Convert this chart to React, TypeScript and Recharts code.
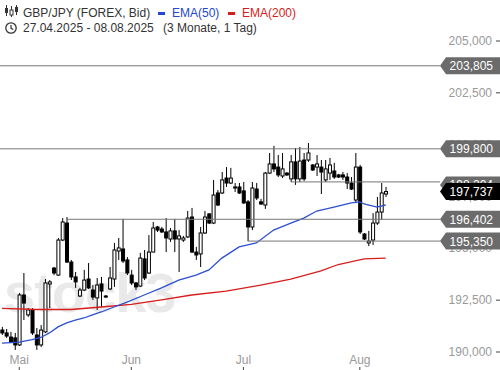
import React from "react"
import {
  ComposedChart, Bar, Line, XAxis, YAxis, ReferenceLine,
} from "recharts"

// GBP/JPY daily candles 27.04.2025 - 08.08.2025 (Sun-Fri sessions)
const OPEN = [
  191.06, 190.92, 190.72, 190.68, 190.34, 192.75, 191.79, 192.03, 190.82, 190.34,
  190.97, 193.28, 194.05, 193.71, 195.40, 196.22, 194.34, 193.62, 192.70, 192.99,
  193.52, 192.99, 192.61, 193.28, 192.70, 193.04, 193.52, 194.87, 194.97, 194.44,
  193.71, 193.33, 193.18, 194.49, 193.81, 194.82, 196.03, 195.93, 195.79, 195.45,
  195.84, 195.45, 195.40, 195.55, 196.51, 194.82, 194.73, 195.74, 196.66, 196.22,
  197.67, 197.67, 198.39, 198.15, 197.91, 197.96, 197.77, 197.24, 196.03, 197.86,
  197.24, 197.09, 198.63, 199.07, 198.92, 198.49, 198.63, 198.35, 199.17, 198.35,
  199.26, 199.26, 199.02, 198.92, 198.92, 198.30, 198.63, 198.73, 198.54, 198.54,
  198.44, 198.15, 197.33, 198.92, 195.69, 195.26, 195.40, 196.22, 196.75, 197.62,
]
const HIGH = [
  191.21, 191.11, 190.97, 190.92, 192.85, 193.81, 192.12, 192.12, 191.16, 191.30,
  193.52, 193.47, 194.10, 195.50, 196.46, 196.51, 194.44, 193.86, 193.09, 193.96,
  194.29, 193.23, 193.57, 193.62, 192.75, 194.10, 195.26, 195.50, 196.42, 194.58,
  193.96, 193.38, 194.78, 194.92, 195.64, 196.27, 196.08, 196.03, 196.46, 195.98,
  196.42, 195.88, 195.60, 196.80, 196.95, 195.07, 196.03, 196.80, 196.70, 198.30,
  197.81, 198.68, 198.92, 198.88, 198.15, 198.15, 198.20, 197.33, 198.20, 198.15,
  197.38, 198.68, 199.60, 199.94, 199.50, 199.60, 198.68, 199.50, 199.84, 199.89,
  199.60, 200.08, 199.07, 199.50, 199.26, 199.26, 199.36, 199.12, 198.59, 198.68,
  198.63, 198.44, 199.60, 199.02, 195.74, 195.84, 196.70, 197.48, 198.15, 197.96,
]
const LOW = [
  190.82, 190.68, 190.43, 190.10, 190.29, 191.54, 191.69, 190.82, 190.10, 190.24,
  190.92, 192.12, 193.71, 193.67, 195.35, 194.29, 193.47, 193.09, 192.65, 192.94,
  193.04, 192.51, 192.03, 192.17, 192.61, 192.99, 193.14, 194.44, 194.29, 193.71,
  193.23, 192.99, 193.14, 193.47, 193.76, 194.82, 195.79, 195.74, 194.82, 195.31,
  194.82, 193.86, 195.31, 195.50, 194.78, 194.44, 194.10, 195.70, 196.17, 196.17,
  197.04, 197.62, 197.96, 198.10, 197.72, 197.62, 197.14, 195.35, 195.88, 197.33,
  197.09, 196.90, 198.59, 198.68, 198.44, 198.39, 198.49, 198.20, 198.06, 198.20,
  198.25, 199.17, 198.73, 198.49, 197.62, 198.20, 198.30, 198.35, 198.39, 198.30,
  197.86, 197.81, 197.19, 195.69, 195.40, 195.11, 195.16, 196.13, 196.37, 197.48,
]
const CLOSE = [
  190.92, 190.77, 190.48, 190.34, 192.75, 192.36, 192.03, 190.92, 190.34, 191.06,
  193.33, 193.38, 193.81, 195.40, 196.27, 194.34, 193.62, 193.38, 192.99, 193.47,
  193.09, 192.65, 193.23, 192.94, 192.65, 193.57, 194.92, 195.02, 194.39, 193.81,
  193.33, 193.14, 194.53, 193.57, 194.82, 195.98, 195.88, 195.79, 195.50, 195.84,
  195.45, 195.60, 195.50, 196.46, 194.82, 194.68, 195.74, 196.51, 196.22, 197.57,
  197.09, 198.30, 198.15, 198.39, 197.96, 197.67, 197.19, 196.03, 197.91, 197.43,
  197.14, 198.63, 199.07, 198.83, 198.54, 198.83, 198.54, 199.17, 198.35, 199.21,
  198.35, 199.60, 198.78, 199.07, 198.68, 198.83, 199.02, 198.44, 198.44, 198.44,
  198.15, 197.86, 198.92, 195.79, 195.45, 195.35, 196.22, 196.75, 197.67, 197.737,
]

// moving averages at a few candle indices
const EMA50_IDX = [0, 4, 7, 9, 11, 13, 15, 17, 19, 21, 23, 26, 29, 33, 37, 41, 45, 48, 51, 55, 59, 63, 67, 70, 73, 77, 81, 83, 84, 87, 89]
const EMA50_VAL = [
  190.43, 190.48, 190.60, 190.70, 190.92, 191.21, 191.40, 191.54, 191.64, 191.79,
  191.93, 192.17, 192.41, 192.75, 193.09, 193.47, 193.71, 193.96, 194.53, 195.07,
  195.26, 195.88, 196.22, 196.46, 196.80, 196.99, 197.19, 197.24, 197.14, 196.99, 197.09,
]
const EMA200_IDX = [0, 8, 16, 23, 30, 37, 44, 52, 60, 67, 74, 78, 84, 89]
const EMA200_VAL = [192.10, 192.05, 192.05, 192.17, 192.30, 192.51, 192.75, 192.94, 193.23, 193.52, 193.91, 194.22, 194.49, 194.53]

// horizontal levels: value, first candle index (null = from the left edge)
const LEVEL_VAL = [203.805, 199.8, 198.204, 196.402, 195.35]
const LEVEL_FROM: (number | null)[] = [null, null, 67, 15, 57]
const LAST_PRICE = 197.737

const PRICE_TICKS = [190, 192.5, 195, 197.5, 200, 202.5, 205]
const MONTH_TICKS = [4, 30, 56, 83]
const MONTH_LABELS = ["Mai", "Jun", "Jul", "Aug"]

const XMIN = -0.464
const XMAX = 101.6
const YMIN = 190
const YMAX = 206.978

const FONT = "'Liberation Sans', Arial, sans-serif"

const candles = OPEN.map((o, i) => ({ i, o, h: HIGH[i], l: LOW[i], c: CLOSE[i] }))
const ema50 = EMA50_IDX.map((i, k) => ({ i, v: EMA50_VAL[k] }))
const ema200 = EMA200_IDX.map((i, k) => ({ i, v: EMA200_VAL[k] }))

const fmt = (v: number) => v.toFixed(3).replace(".", ",")

function Candle(props: any) {
  const { x, y, width, height, payload } = props
  const { o, c, h, l } = payload
  const span = h - l || 1
  const py = (v: number) => y + ((h - v) / span) * height
  const cx = x + width / 2
  const top = py(Math.max(o, c))
  const bot = py(Math.min(o, c))
  const up = c >= o
  return (
    <g>
      <line x1={cx} x2={cx} y1={y} y2={y + height} stroke="#000" strokeWidth={1} />
      <rect x={x} y={top} width={width} height={Math.max(bot - top, 1)}
        fill={up ? "#fff" : "#000"} stroke="#000" strokeWidth={1} />
    </g>
  )
}

// price label on the right edge, drawn as a reference-line label so tags can sit above it
function priceTick(v: number) {
  return (p: any) => {
    const y = p.viewBox.y
    return (
      <g>
        <text x={492} y={y + 4} textAnchor="end" fill="#9a9a9a" fontSize={12} fontFamily={FONT}>{fmt(v)}</text>
        <line x1={496} x2={500} y1={y} y2={y} stroke="#444" />
      </g>
    )
  }
}

function MonthTick({ x, payload }: any) {
  const k = MONTH_TICKS.indexOf(payload.value)
  return (
    <g>
      <text x={x} y={364} textAnchor="middle" fill="#9a9a9a" fontSize={12} fontFamily={FONT}>
        {MONTH_LABELS[k]}
      </text>
      <line x1={x} x2={x} y1={367} y2={370} stroke="#444" />
    </g>
  )
}

function tag(text: string, bg: string, shift = 0) {
  return (p: any) => {
    const vb = p.viewBox
    const x0 = vb.x + vb.width
    const y = vb.y + shift
    return (
      <g>
        <path d={`M${x0},${y} L${x0 + 6},${y - 8.5} H500 V${y + 8.5} H${x0 + 6} Z`} fill={bg} />
        <text x={493} y={y + 4.5} textAnchor="end" fill="#fff" fontSize={12} fontFamily={FONT}>{text}</text>
      </g>
    )
  }
}

function Header() {
  const row: React.CSSProperties = { position: "absolute", fontSize: 12, color: "#333", whiteSpace: "nowrap", lineHeight: "14px" }
  return (
    <>
      <svg width={16} height={36} style={{ position: "absolute", left: 4, top: 4 }}>
        <line x1={2.5} x2={2.5} y1={1} y2={12} stroke="#333" />
        <rect x={1} y={4} width={3} height={5} fill="#333" />
        <line x1={7.5} x2={7.5} y1={2} y2={13} stroke="#333" />
        <rect x={6} y={6} width={3} height={5} fill="#fff" stroke="#333" />
        <line x1={12.5} x2={12.5} y1={1} y2={11} stroke="#333" />
        <rect x={11} y={3} width={3} height={5} fill="#333" />
        <circle cx={7} cy={24} r={5.2} fill="none" stroke="#333" strokeWidth={1.3} />
        <path d="M7,21 V24.3 L9.3,25.6" fill="none" stroke="#333" strokeWidth={1.2} />
      </svg>
      <div style={{ ...row, left: 23, top: 6 }}>GBP/JPY (FOREX, Bid)</div>
      <div style={{ position: "absolute", left: 158, top: 12, width: 7, height: 3, background: "#2347d0" }} />
      <div style={{ ...row, left: 172, top: 6, color: "#2347d0" }}>EMA(50)</div>
      <div style={{ position: "absolute", left: 228, top: 12, width: 7, height: 3, background: "#d81c1c" }} />
      <div style={{ ...row, left: 242, top: 6, color: "#d81c1c" }}>EMA(200)</div>
      <div style={{ ...row, left: 23, top: 21 }}>27.04.2025 - 08.08.2025</div>
      <div style={{ ...row, left: 163, top: 21 }}>(3 Monate, 1 Tag)</div>
    </>
  )
}

export default function App() {
  return (
    <div style={{ position: "relative", width: 500, height: 370, background: "#fff", fontFamily: FONT, overflow: "hidden" }}>
      <style>{"body{margin:0}"}</style>
      {/* faint watermark */}
      <div style={{ position: "absolute", left: 4, top: 260, fontSize: 56, fontWeight: 700, color: "#e9e9e9", letterSpacing: -1 }}>
        stock3
      </div>
      <div style={{ position: "absolute", left: 0, top: 0 }}>
        <ComposedChart width={500} height={370} data={candles} margin={{ top: 0, right: 0, bottom: 0, left: 0 }}>
          <XAxis type="number" dataKey="i" domain={[XMIN, XMAX]} allowDataOverflow ticks={MONTH_TICKS}
            interval={0} height={18} axisLine={false} tickLine={false} tick={<MonthTick />} />
          <YAxis type="number" orientation="right" width={60} domain={[YMIN, YMAX]} allowDataOverflow
            ticks={PRICE_TICKS} axisLine={false} tickLine={false} tick={false} />

          {PRICE_TICKS.map((v) => (
            <ReferenceLine key={"p" + v} y={v} stroke="none" label={priceTick(v)} />
          ))}

          <Line data={ema200} dataKey="v" type="linear" stroke="#d81c1c" strokeWidth={1.3}
            dot={false} activeDot={false} legendType="none" isAnimationActive={false} />
          <Line data={ema50} dataKey="v" type="linear" stroke="#2d4fd2" strokeWidth={1.3}
            dot={false} activeDot={false} legendType="none" isAnimationActive={false} />

          {LEVEL_VAL.map((v, k) => (
            <ReferenceLine key={k} stroke="#777" strokeWidth={1} ifOverflow="visible"
              segment={[{ x: LEVEL_FROM[k] ?? XMIN, y: v }, { x: XMAX, y: v }]}
              label={k === 2 ? tag(fmt(v), "#6b6b6b", 3) : undefined} />
          ))}
          <ReferenceLine y={LAST_PRICE} stroke="none" label={tag(fmt(LAST_PRICE), "#000")} />
          {LEVEL_VAL.map((v, k) => k === 2 ? null : (
            <ReferenceLine key={"t" + k} y={v} stroke="none" label={tag(fmt(v), "#6b6b6b")} />
          ))}

          <Bar dataKey={(d: any) => [d.l, d.h]} barSize={3} shape={<Candle />} isAnimationActive={false} />
        </ComposedChart>
      </div>
      <Header />
    </div>
  )
}
